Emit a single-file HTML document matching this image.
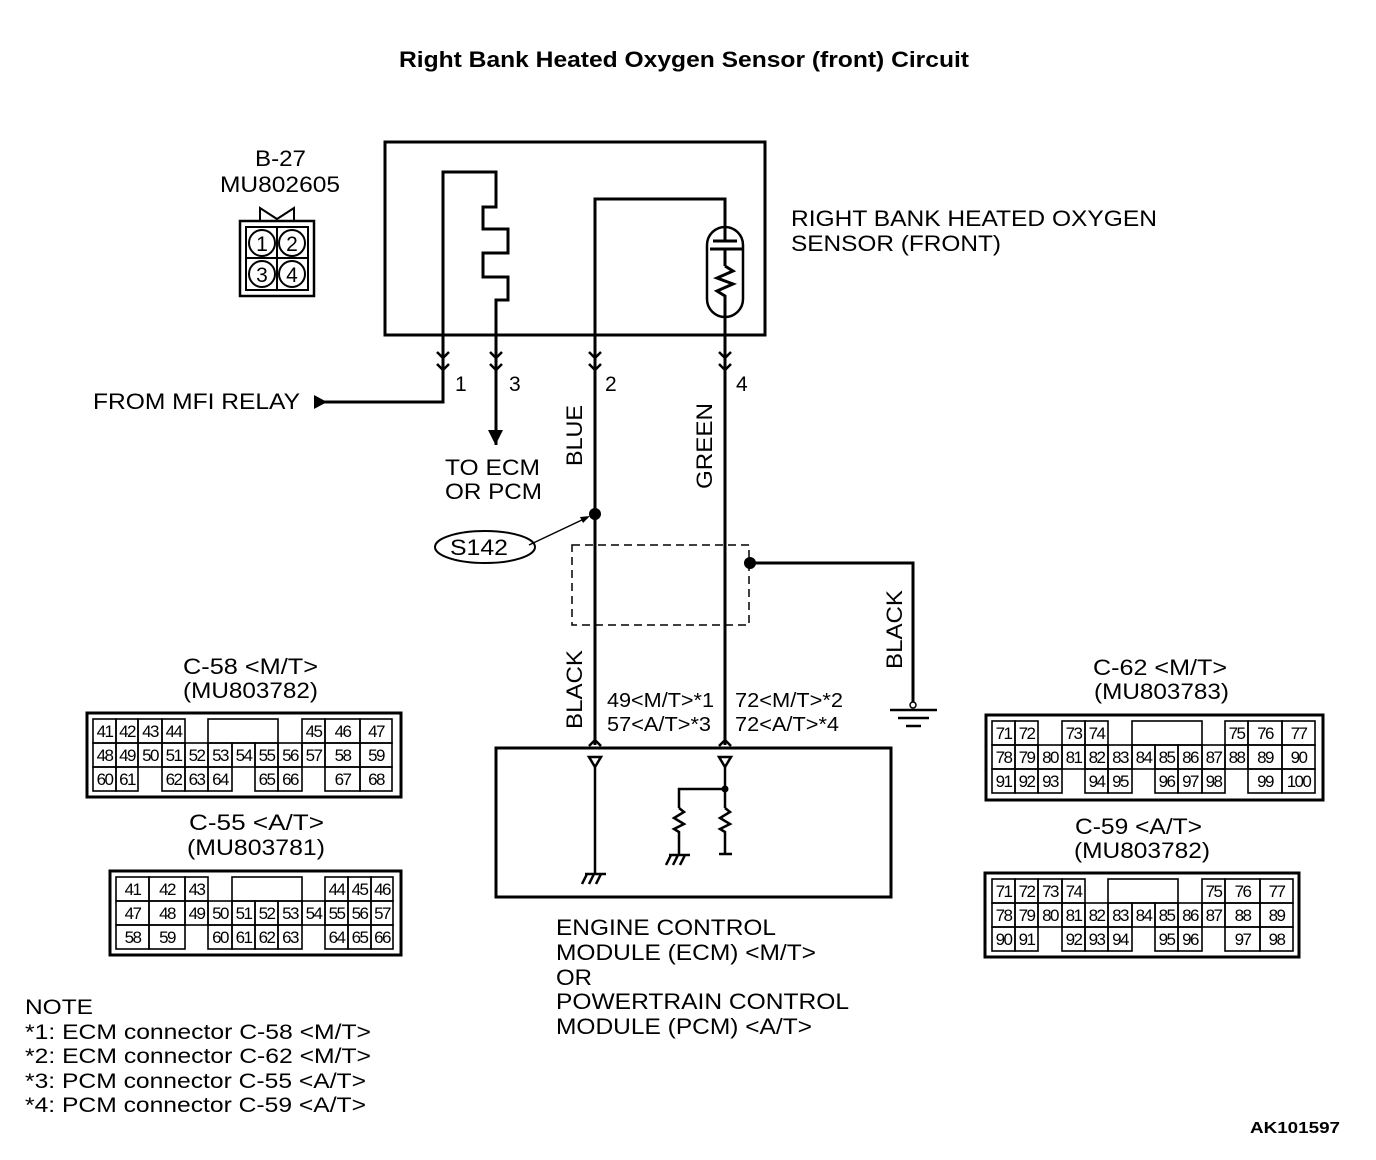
<!DOCTYPE html>
<html><head><meta charset="utf-8"><style>
html,body{margin:0;padding:0;background:#fff}
svg{display:block}
text{font-family:"Liberation Sans",Arial,sans-serif;fill:#000}
.c rect{fill:none;stroke:#000;stroke-width:1.6}
.c text{font-size:17px;text-anchor:middle;letter-spacing:-1.6px}
.w{fill:none;stroke:#000;stroke-width:3}
.t{font-size:22px}
</style></head><body>
<svg width="1376" height="1160" viewBox="0 0 1376 1160" xmlns="http://www.w3.org/2000/svg">
<text x="399" y="67" font-size="22" font-weight="bold" textLength="570" lengthAdjust="spacingAndGlyphs">Right Bank Heated Oxygen Sensor (front) Circuit</text>

<!-- B-27 -->
<text x="255" y="166" class="t" textLength="51" lengthAdjust="spacingAndGlyphs">B-27</text>
<text x="220" y="192" class="t" textLength="120" lengthAdjust="spacingAndGlyphs">MU802605</text>
<g fill="none" stroke="#000" stroke-width="2">
<rect x="240" y="221" width="74" height="75" stroke-width="2.5"/>
<rect x="246" y="227" width="62" height="63"/>
<line x1="277" y1="227" x2="277" y2="290"/><line x1="246" y1="258" x2="308" y2="258"/>
<circle cx="262" cy="243" r="13" fill="#fff"/><circle cx="292" cy="243" r="13" fill="#fff"/>
<circle cx="262" cy="274" r="13" fill="#fff"/><circle cx="292" cy="274" r="13" fill="#fff"/>
<polyline points="260,221 260,208 277,219 294,208 294,221"/>
</g>
<text x="262" y="251" font-size="21" text-anchor="middle">1</text>
<text x="292" y="251" font-size="21" text-anchor="middle">2</text>
<text x="262" y="282" font-size="21" text-anchor="middle">3</text>
<text x="292" y="282" font-size="21" text-anchor="middle">4</text>

<!-- sensor -->
<rect x="385" y="142" width="380" height="193" class="w"/>
<polyline class="w" points="443,402 443,172 496,172 496,207 483,207 483,229 508,229 508,253 483,253 483,277 508,277 508,300 496,300 496,445"/>
<polyline class="w" points="595,745 595,199 725,199 725,241"/>
<line class="w" x1="725" y1="249" x2="725" y2="266"/>
<polyline class="w" stroke-width="2.5" points="725,266 733,271 717,278 733,284 717,291 725,296 725,745"/>
<rect x="707" y="227" width="36" height="90" rx="18" fill="none" stroke="#000" stroke-width="2.5"/>
<line class="w" x1="713" y1="241" x2="737" y2="241" stroke-width="2.5"/>
<line class="w" x1="710" y1="249" x2="742" y2="249" stroke-width="2.5"/>
<g fill="none" stroke="#000" stroke-width="2.5">
<polyline points="437,352 443,358 449,352"/><polyline points="437,364 443,370 449,364"/>
<polyline points="490,352 496,358 502,352"/><polyline points="490,364 496,370 502,364"/>
<polyline points="589,352 595,358 601,352"/><polyline points="589,364 595,370 601,364"/>
<polyline points="719,352 725,358 731,352"/><polyline points="719,364 725,370 731,364"/>
</g>
<text x="455" y="391" font-size="21">1</text>
<text x="509" y="391" font-size="21">3</text>
<text x="605" y="391" font-size="21">2</text>
<text x="736" y="391" font-size="21">4</text>
<text x="791" y="226" class="t" textLength="366" lengthAdjust="spacingAndGlyphs">RIGHT BANK HEATED OXYGEN</text>
<text x="791" y="251" class="t" textLength="210" lengthAdjust="spacingAndGlyphs">SENSOR (FRONT)</text>

<polyline class="w" points="443,400 443,402 322,402"/>
<polygon points="314,395 314,409 327,402"/>
<text x="93" y="409" class="t" textLength="207" lengthAdjust="spacingAndGlyphs">FROM MFI RELAY</text>
<polygon points="488,430 503,430 495.5,445"/>
<text x="445" y="475" class="t" textLength="95" lengthAdjust="spacingAndGlyphs">TO ECM</text>
<text x="445" y="499" class="t" textLength="97" lengthAdjust="spacingAndGlyphs">OR PCM</text>

<text transform="translate(582,466) rotate(-90)" class="t" textLength="61" lengthAdjust="spacingAndGlyphs">BLUE</text>
<text transform="translate(712,489) rotate(-90)" class="t" textLength="86" lengthAdjust="spacingAndGlyphs">GREEN</text>
<text transform="translate(582,729) rotate(-90)" class="t" textLength="79" lengthAdjust="spacingAndGlyphs">BLACK</text>
<text transform="translate(902,669) rotate(-90)" class="t" textLength="79" lengthAdjust="spacingAndGlyphs">BLACK</text>

<circle cx="595" cy="514" r="6"/>
<ellipse cx="485" cy="547" rx="50" ry="16" fill="none" stroke="#000" stroke-width="2"/>
<text x="450" y="555" class="t" textLength="58" lengthAdjust="spacingAndGlyphs">S142</text>
<line x1="529" y1="545" x2="584" y2="519" stroke="#000" stroke-width="1.5"/>
<polygon points="590,516 580,517 583,523"/>
<rect x="572" y="545" width="177" height="80" fill="none" stroke="#000" stroke-width="1.5" stroke-dasharray="8,5"/>
<circle cx="750" cy="563" r="6"/>
<polyline class="w" points="750,563 913,563 913,703"/>
<circle cx="913" cy="705" r="3" fill="#fff" stroke="#000" stroke-width="1.5"/>
<g stroke="#000" stroke-width="2.5"><line x1="890" y1="710" x2="937" y2="710"/><line x1="898" y1="718" x2="929" y2="718"/><line x1="906" y1="726" x2="921" y2="726"/></g>

<text x="607" y="707" font-size="20" textLength="107" lengthAdjust="spacingAndGlyphs">49&lt;M/T&gt;*1</text>
<text x="607" y="731" font-size="20" textLength="104" lengthAdjust="spacingAndGlyphs">57&lt;A/T&gt;*3</text>
<text x="735" y="707" font-size="20" textLength="108" lengthAdjust="spacingAndGlyphs">72&lt;M/T&gt;*2</text>
<text x="735" y="731" font-size="20" textLength="104" lengthAdjust="spacingAndGlyphs">72&lt;A/T&gt;*4</text>

<!-- ECM -->
<rect x="496" y="748" width="395" height="149" class="w"/>
<g fill="none" stroke="#000" stroke-width="2.5">
<polyline points="589,746 595,740 601,746"/><polyline points="719,746 725,740 731,746"/>
<polygon points="589,757 601,757 595,767"/><polygon points="719,757 731,757 725,767"/>
<line x1="595" y1="767" x2="595" y2="873"/>
<line x1="725" y1="767" x2="725" y2="808"/>
<polyline points="725,789 679,789 679,808"/>
<polyline points="679,808 684,812 674,818 684,824 674,829 679,832 679,855"/>
<polyline points="725,808 730,812 720,818 730,824 720,829 725,832 725,853"/>
<line x1="719" y1="854" x2="732" y2="854"/>
<line x1="585" y1="874" x2="606" y2="874"/><line x1="587" y1="874" x2="582" y2="884"/><line x1="594" y1="874" x2="589" y2="884"/><line x1="601" y1="874" x2="596" y2="884"/>
<line x1="669" y1="855" x2="690" y2="855"/><line x1="671" y1="855" x2="666" y2="865"/><line x1="678" y1="855" x2="673" y2="865"/><line x1="685" y1="855" x2="680" y2="865"/>
</g>
<circle cx="725" cy="789" r="3.5"/>
<g class="t">
<text x="556" y="935" textLength="220" lengthAdjust="spacingAndGlyphs">ENGINE CONTROL</text>
<text x="556" y="960" textLength="260" lengthAdjust="spacingAndGlyphs">MODULE (ECM) &lt;M/T&gt;</text>
<text x="556" y="985" textLength="36" lengthAdjust="spacingAndGlyphs">OR</text>
<text x="556" y="1009" textLength="293" lengthAdjust="spacingAndGlyphs">POWERTRAIN CONTROL</text>
<text x="556" y="1034" textLength="256" lengthAdjust="spacingAndGlyphs">MODULE (PCM) &lt;A/T&gt;</text></g>

<g font-size="21">
<text x="25" y="1014" textLength="68" lengthAdjust="spacingAndGlyphs">NOTE</text>
<text x="25" y="1039" textLength="346" lengthAdjust="spacingAndGlyphs">*1: ECM connector C-58 &lt;M/T&gt;</text>
<text x="25" y="1063" textLength="346" lengthAdjust="spacingAndGlyphs">*2: ECM connector C-62 &lt;M/T&gt;</text>
<text x="25" y="1088" textLength="341" lengthAdjust="spacingAndGlyphs">*3: PCM connector C-55 &lt;A/T&gt;</text>
<text x="25" y="1112" textLength="341" lengthAdjust="spacingAndGlyphs">*4: PCM connector C-59 &lt;A/T&gt;</text></g>
<text x="1250" y="1133" font-size="16" font-weight="bold" textLength="90" lengthAdjust="spacingAndGlyphs">AK101597</text>

<!-- connector labels -->
<g class="t">
<text x="183" y="674" textLength="135" lengthAdjust="spacingAndGlyphs">C-58 &lt;M/T&gt;</text><text x="183" y="698" textLength="135" lengthAdjust="spacingAndGlyphs">(MU803782)</text>
<text x="189" y="830" textLength="135" lengthAdjust="spacingAndGlyphs">C-55 &lt;A/T&gt;</text><text x="187" y="855" textLength="138" lengthAdjust="spacingAndGlyphs">(MU803781)</text>
<text x="1093" y="675" textLength="134" lengthAdjust="spacingAndGlyphs">C-62 &lt;M/T&gt;</text><text x="1094" y="699" textLength="135" lengthAdjust="spacingAndGlyphs">(MU803783)</text>
<text x="1075" y="834" textLength="127" lengthAdjust="spacingAndGlyphs">C-59 &lt;A/T&gt;</text><text x="1074" y="858" textLength="136" lengthAdjust="spacingAndGlyphs">(MU803782)</text>
</g>

<!-- C-58 -->
<rect x="87" y="713" width="314" height="84" fill="none" stroke="#000" stroke-width="3"/>
<g class="c">
<rect x="93" y="719" width="23" height="24"/><text x="104.5" y="737">41</text>
<rect x="116" y="719" width="22" height="24"/><text x="127" y="737">42</text>
<rect x="138" y="719" width="24" height="24"/><text x="150" y="737">43</text>
<rect x="162" y="719" width="23" height="24"/><text x="173.5" y="737">44</text>
<rect x="208" y="719" width="70" height="24"/>
<rect x="302" y="719" width="23" height="24"/><text x="313.5" y="737">45</text>
<rect x="325" y="719" width="35" height="24"/><text x="342.5" y="737">46</text>
<rect x="360" y="719" width="32" height="24"/><text x="376" y="737">47</text>
<rect x="93" y="743" width="23" height="24"/><text x="104.5" y="761">48</text>
<rect x="116" y="743" width="22" height="24"/><text x="127" y="761">49</text>
<rect x="138" y="743" width="24" height="24"/><text x="150" y="761">50</text>
<rect x="162" y="743" width="23" height="24"/><text x="173.5" y="761">51</text>
<rect x="185" y="743" width="23" height="24"/><text x="196.5" y="761">52</text>
<rect x="208" y="743" width="24" height="24"/><text x="220" y="761">53</text>
<rect x="232" y="743" width="23" height="24"/><text x="243.5" y="761">54</text>
<rect x="255" y="743" width="23" height="24"/><text x="266.5" y="761">55</text>
<rect x="278" y="743" width="24" height="24"/><text x="290" y="761">56</text>
<rect x="302" y="743" width="23" height="24"/><text x="313.5" y="761">57</text>
<rect x="325" y="743" width="35" height="24"/><text x="342.5" y="761">58</text>
<rect x="360" y="743" width="32" height="24"/><text x="376" y="761">59</text>
<rect x="93" y="767" width="23" height="24"/><text x="104.5" y="785">60</text>
<rect x="116" y="767" width="22" height="24"/><text x="127" y="785">61</text>
<rect x="162" y="767" width="23" height="24"/><text x="173.5" y="785">62</text>
<rect x="185" y="767" width="23" height="24"/><text x="196.5" y="785">63</text>
<rect x="208" y="767" width="24" height="24"/><text x="220" y="785">64</text>
<rect x="255" y="767" width="23" height="24"/><text x="266.5" y="785">65</text>
<rect x="278" y="767" width="24" height="24"/><text x="290" y="785">66</text>
<rect x="325" y="767" width="35" height="24"/><text x="342.5" y="785">67</text>
<rect x="360" y="767" width="32" height="24"/><text x="376" y="785">68</text>
</g>

<!-- C-55 -->
<rect x="110" y="871" width="291" height="84" fill="none" stroke="#000" stroke-width="3"/>
<g class="c">
<rect x="116" y="877" width="33" height="24"/><text x="132.5" y="895">41</text>
<rect x="149" y="877" width="36" height="24"/><text x="167" y="895">42</text>
<rect x="185" y="877" width="23" height="24"/><text x="196.5" y="895">43</text>
<rect x="232" y="877" width="70" height="24"/>
<rect x="325" y="877" width="23" height="24"/><text x="336.5" y="895">44</text>
<rect x="348" y="877" width="23" height="24"/><text x="359.5" y="895">45</text>
<rect x="371" y="877" width="22" height="24"/><text x="382" y="895">46</text>
<rect x="116" y="901" width="33" height="24"/><text x="132.5" y="919">47</text>
<rect x="149" y="901" width="36" height="24"/><text x="167" y="919">48</text>
<rect x="185" y="901" width="23" height="24"/><text x="196.5" y="919">49</text>
<rect x="208" y="901" width="24" height="24"/><text x="220" y="919">50</text>
<rect x="232" y="901" width="23" height="24"/><text x="243.5" y="919">51</text>
<rect x="255" y="901" width="23" height="24"/><text x="266.5" y="919">52</text>
<rect x="278" y="901" width="24" height="24"/><text x="290" y="919">53</text>
<rect x="302" y="901" width="23" height="24"/><text x="313.5" y="919">54</text>
<rect x="325" y="901" width="23" height="24"/><text x="336.5" y="919">55</text>
<rect x="348" y="901" width="23" height="24"/><text x="359.5" y="919">56</text>
<rect x="371" y="901" width="22" height="24"/><text x="382" y="919">57</text>
<rect x="116" y="925" width="33" height="24"/><text x="132.5" y="943">58</text>
<rect x="149" y="925" width="36" height="24"/><text x="167" y="943">59</text>
<rect x="208" y="925" width="24" height="24"/><text x="220" y="943">60</text>
<rect x="232" y="925" width="23" height="24"/><text x="243.5" y="943">61</text>
<rect x="255" y="925" width="23" height="24"/><text x="266.5" y="943">62</text>
<rect x="278" y="925" width="24" height="24"/><text x="290" y="943">63</text>
<rect x="325" y="925" width="23" height="24"/><text x="336.5" y="943">64</text>
<rect x="348" y="925" width="23" height="24"/><text x="359.5" y="943">65</text>
<rect x="371" y="925" width="22" height="24"/><text x="382" y="943">66</text>
</g>

<!-- C-62 -->
<rect x="986" y="715" width="337" height="85" fill="none" stroke="#000" stroke-width="3"/>
<g class="c">
<rect x="992" y="721" width="23" height="24"/><text x="1003.5" y="739">71</text>
<rect x="1015" y="721" width="23" height="24"/><text x="1026.5" y="739">72</text>
<rect x="1062" y="721" width="23" height="24"/><text x="1073.5" y="739">73</text>
<rect x="1085" y="721" width="23" height="24"/><text x="1096.5" y="739">74</text>
<rect x="1132" y="721" width="70" height="24"/>
<rect x="1225" y="721" width="23" height="24"/><text x="1236.5" y="739">75</text>
<rect x="1248" y="721" width="34" height="24"/><text x="1265" y="739">76</text>
<rect x="1282" y="721" width="33" height="24"/><text x="1298.5" y="739">77</text>
<rect x="992" y="745" width="23" height="24"/><text x="1003.5" y="763">78</text>
<rect x="1015" y="745" width="23" height="24"/><text x="1026.5" y="763">79</text>
<rect x="1038" y="745" width="24" height="24"/><text x="1050" y="763">80</text>
<rect x="1062" y="745" width="23" height="24"/><text x="1073.5" y="763">81</text>
<rect x="1085" y="745" width="23" height="24"/><text x="1096.5" y="763">82</text>
<rect x="1108" y="745" width="24" height="24"/><text x="1120" y="763">83</text>
<rect x="1132" y="745" width="23" height="24"/><text x="1143.5" y="763">84</text>
<rect x="1155" y="745" width="23" height="24"/><text x="1166.5" y="763">85</text>
<rect x="1178" y="745" width="24" height="24"/><text x="1190" y="763">86</text>
<rect x="1202" y="745" width="23" height="24"/><text x="1213.5" y="763">87</text>
<rect x="1225" y="745" width="23" height="24"/><text x="1236.5" y="763">88</text>
<rect x="1248" y="745" width="34" height="24"/><text x="1265" y="763">89</text>
<rect x="1282" y="745" width="33" height="24"/><text x="1298.5" y="763">90</text>
<rect x="992" y="769" width="23" height="24"/><text x="1003.5" y="787">91</text>
<rect x="1015" y="769" width="23" height="24"/><text x="1026.5" y="787">92</text>
<rect x="1038" y="769" width="24" height="24"/><text x="1050" y="787">93</text>
<rect x="1085" y="769" width="23" height="24"/><text x="1096.5" y="787">94</text>
<rect x="1108" y="769" width="24" height="24"/><text x="1120" y="787">95</text>
<rect x="1155" y="769" width="23" height="24"/><text x="1166.5" y="787">96</text>
<rect x="1178" y="769" width="24" height="24"/><text x="1190" y="787">97</text>
<rect x="1202" y="769" width="23" height="24"/><text x="1213.5" y="787">98</text>
<rect x="1248" y="769" width="34" height="24"/><text x="1265" y="787">99</text>
<rect x="1282" y="769" width="33" height="24"/><text x="1298.5" y="787">100</text>
</g>

<!-- C-59 -->
<rect x="985" y="873" width="314" height="84" fill="none" stroke="#000" stroke-width="3"/>
<g class="c">
<rect x="992" y="879" width="23" height="24"/><text x="1003.5" y="897">71</text>
<rect x="1015" y="879" width="23" height="24"/><text x="1026.5" y="897">72</text>
<rect x="1038" y="879" width="24" height="24"/><text x="1050" y="897">73</text>
<rect x="1062" y="879" width="23" height="24"/><text x="1073.5" y="897">74</text>
<rect x="1108" y="879" width="70" height="24"/>
<rect x="1202" y="879" width="23" height="24"/><text x="1213.5" y="897">75</text>
<rect x="1225" y="879" width="35" height="24"/><text x="1242.5" y="897">76</text>
<rect x="1260" y="879" width="33" height="24"/><text x="1276.5" y="897">77</text>
<rect x="992" y="903" width="23" height="24"/><text x="1003.5" y="921">78</text>
<rect x="1015" y="903" width="23" height="24"/><text x="1026.5" y="921">79</text>
<rect x="1038" y="903" width="24" height="24"/><text x="1050" y="921">80</text>
<rect x="1062" y="903" width="23" height="24"/><text x="1073.5" y="921">81</text>
<rect x="1085" y="903" width="23" height="24"/><text x="1096.5" y="921">82</text>
<rect x="1108" y="903" width="24" height="24"/><text x="1120" y="921">83</text>
<rect x="1132" y="903" width="23" height="24"/><text x="1143.5" y="921">84</text>
<rect x="1155" y="903" width="23" height="24"/><text x="1166.5" y="921">85</text>
<rect x="1178" y="903" width="24" height="24"/><text x="1190" y="921">86</text>
<rect x="1202" y="903" width="23" height="24"/><text x="1213.5" y="921">87</text>
<rect x="1225" y="903" width="35" height="24"/><text x="1242.5" y="921">88</text>
<rect x="1260" y="903" width="33" height="24"/><text x="1276.5" y="921">89</text>
<rect x="992" y="927" width="23" height="24"/><text x="1003.5" y="945">90</text>
<rect x="1015" y="927" width="23" height="24"/><text x="1026.5" y="945">91</text>
<rect x="1062" y="927" width="23" height="24"/><text x="1073.5" y="945">92</text>
<rect x="1085" y="927" width="23" height="24"/><text x="1096.5" y="945">93</text>
<rect x="1108" y="927" width="24" height="24"/><text x="1120" y="945">94</text>
<rect x="1155" y="927" width="23" height="24"/><text x="1166.5" y="945">95</text>
<rect x="1178" y="927" width="24" height="24"/><text x="1190" y="945">96</text>
<rect x="1225" y="927" width="35" height="24"/><text x="1242.5" y="945">97</text>
<rect x="1260" y="927" width="33" height="24"/><text x="1276.5" y="945">98</text>
</g>
</svg>
</body></html>
